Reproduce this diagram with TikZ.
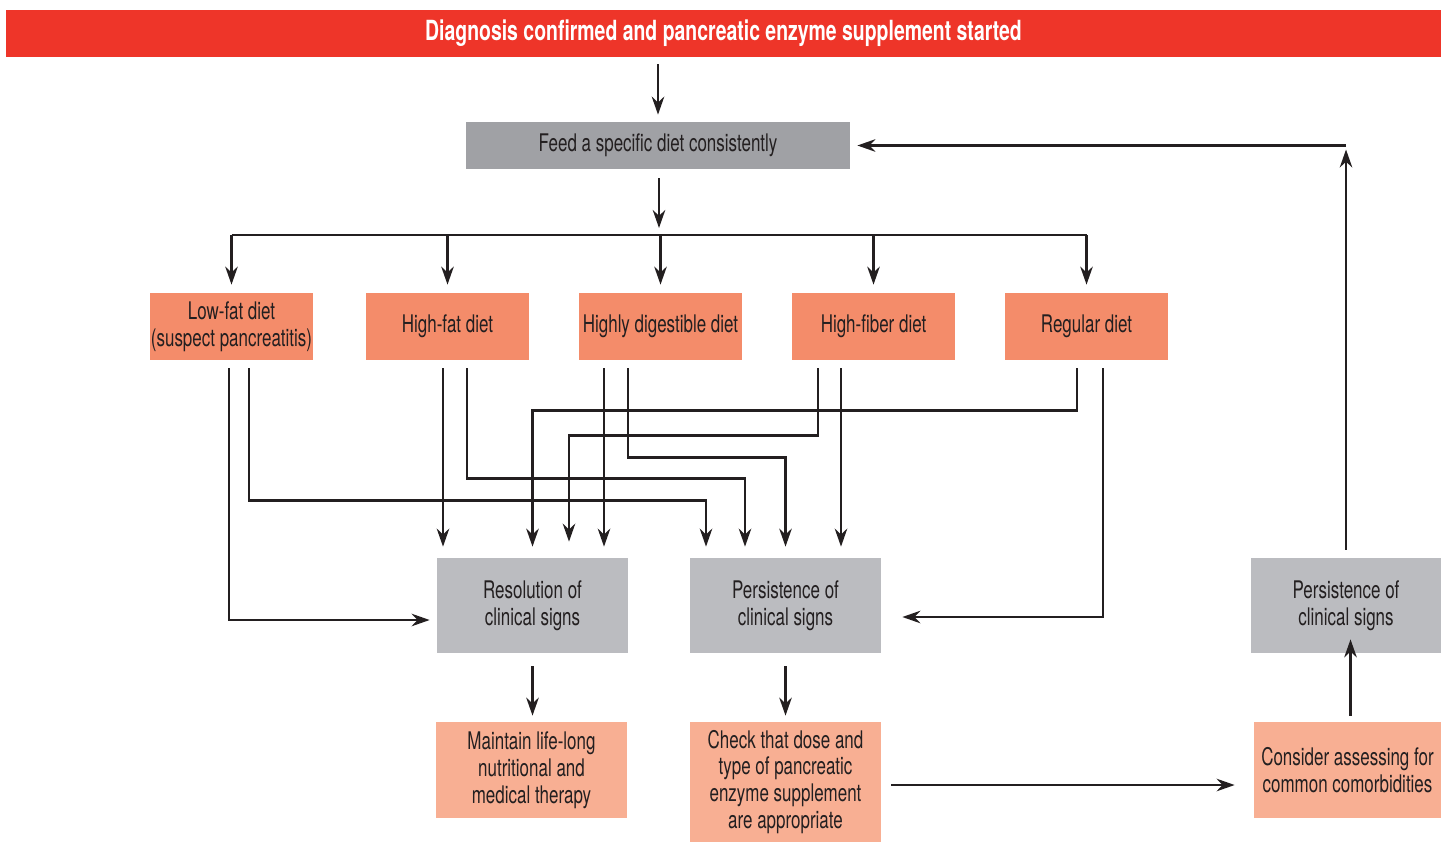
\documentclass[tikz,border=0pt]{standalone}
\usepackage{fontspec}
\setmainfont[FakeStretch=0.70]{TeX Gyre Heros}
\usetikzlibrary{arrows.meta}

\definecolor{ink}{HTML}{231F20}
\definecolor{bannerred}{HTML}{EE3529}
\definecolor{feedgray}{HTML}{A0A1A5}
\definecolor{signgray}{HTML}{BBBCC0}
\definecolor{dietsalmon}{HTML}{F48C6A}
\definecolor{actsalmon}{HTML}{F8AF93}

\begin{document}
\begin{tikzpicture}[>={Stealth[length=0.36cm,width=0.25cm]},
	box/.style={rectangle, inner sep=0pt, text=ink, align=center, font=\fontsize{13.8}{15.3}\selectfont},
	dietbox/.style={box, fill=dietsalmon, minimum width=3.26cm, minimum height=1.34cm},
	signbox/.style={box, fill=signgray, minimum width=3.82cm, minimum height=1.9cm},
	actbox/.style={box, fill=actsalmon, minimum width=3.82cm, minimum height=1.92cm},
	wire/.style={draw=ink, line width=0.05cm},
	arr/.style={wire, ->}]
		\useasboundingbox (0,0) rectangle (28.82,-16.86);

		\node[box, fill=bannerred, text=white, font=\fontsize{15.8}{17}\selectfont\bfseries, minimum width=28.7cm, minimum height=0.94cm] (diag) at (14.47,-0.67) {Diagnosis confirmed and pancreatic enzyme supplement started};
		\node[box, fill=feedgray, minimum width=7.68cm, minimum height=0.94cm] (feed) at (13.16,-2.91) {Feed a specific diet consistently};

		\node[dietbox] (low) at (4.63,-6.53) {Low-fat diet\\(suspect pancreatitis)};
		\node[dietbox] (high) at (8.95,-6.53) {High-fat diet};
		\node[dietbox] (dig) at (13.21,-6.53) {Highly digestible diet};
		\node[dietbox] (fiber) at (17.47,-6.53) {High-fiber diet};
		\node[dietbox] (reg) at (21.73,-6.53) {Regular diet};

		\node[signbox] (res) at (10.65,-12.11) {Resolution of\\clinical signs};
		\node[signbox] (per) at (15.71,-12.11) {Persistence of\\clinical signs};
		\node[signbox, minimum width=3.8cm] (per2) at (26.92,-12.11) {Persistence of\\clinical signs};

		\node[actbox] (keep) at (10.63,-15.4) {Maintain life-long\\nutritional and\\medical therapy};
		\node[actbox, minimum height=2.4cm] (check) at (15.71,-15.64) {Check that dose and\\type of pancreatic\\enzyme supplement\\are appropriate};
		\node[actbox, minimum width=3.74cm] (como) at (26.95,-15.4) {Consider assessing for\\common comorbidities};

		\coordinate (bus) at (13.18,-4.7);
		\coordinate (rin) at ([yshift=0.22cm]res.north);
		\coordinate (pin) at ([yshift=0.22cm]per.north);
		\coordinate (loop) at (feed.east -| per2.north);

		\draw[arr] ([yshift=-0.14cm]diag.south -| feed.north) -- ([yshift=0.14cm]feed.north);
		\draw[arr] ([yshift=-0.18cm]feed.south -| bus) -- ([yshift=0.14cm]bus);
		\draw[wire] (low.north |- bus) -- (reg.north |- bus);
		\foreach \d in {low, high, dig, fiber, reg}
			\draw[arr] (\d.north |- bus) -- ([yshift=0.16cm]\d.north);

		\draw[arr] ([xshift=-0.05cm,yshift=-0.16cm]low.south) |- ([xshift=-0.14cm,yshift=-0.29cm]res.west);
		\draw[arr] ([xshift=0.35cm,yshift=-0.16cm]low.south) |- ([xshift=-1.59cm,yshift=1.14cm]per.north) -- ([xshift=-1.59cm]pin);
		\draw[arr] ([xshift=-0.09cm,yshift=-0.16cm]high.south) coordinate (h1) -- (h1 |- rin);
		\draw[arr] ([xshift=0.39cm,yshift=-0.16cm]high.south) |- ([xshift=-0.81cm,yshift=1.58cm]per.north) -- ([xshift=-0.81cm]pin);
		\draw[arr] ([xshift=-1.13cm,yshift=-0.16cm]dig.south) coordinate (d1) -- (d1 |- rin);
		\draw[arr] ([xshift=-0.65cm,yshift=-0.16cm]dig.south) |- ([yshift=2.0cm]per.north) -- (pin);
		\draw[arr] ([xshift=-1.11cm,yshift=-0.16cm]fiber.south) |- ([xshift=0.73cm,yshift=2.44cm]res.north) -- ([xshift=0.73cm,yshift=0.1cm]rin);
		\draw[arr] ([xshift=-0.65cm,yshift=-0.16cm]fiber.south) coordinate (f1) -- (f1 |- pin);
		\draw[arr] ([xshift=-0.19cm,yshift=-0.16cm]reg.south) |- ([yshift=2.94cm]res.north) -- (rin);
		\draw[arr] ([xshift=0.33cm,yshift=-0.16cm]reg.south) |- ([xshift=0.42cm,yshift=-0.23cm]per.east);

		\draw[arr] ([yshift=-0.26cm]res.south) coordinate (r1) -- ([yshift=0.12cm]r1 |- keep.north);
		\draw[arr] ([yshift=-0.26cm]per.south) -- ([yshift=0.12cm]check.north);
		\draw[arr] ([xshift=0.2cm,yshift=-0.06cm]check.east) coordinate (c1) -- ([xshift=-0.38cm]c1 -| como.west);
		\draw[arr] ([xshift=0.06cm,yshift=0.12cm]como.north) coordinate (k1) -- ([yshift=0.28cm]k1 |- per2.south);
		\draw[arr, shorten >=0.08cm] ([yshift=0.16cm]per2.north) -- (loop);
		\draw[arr] (loop) -- ([xshift=0.14cm]feed.east);
	\end{tikzpicture}
\end{document}
